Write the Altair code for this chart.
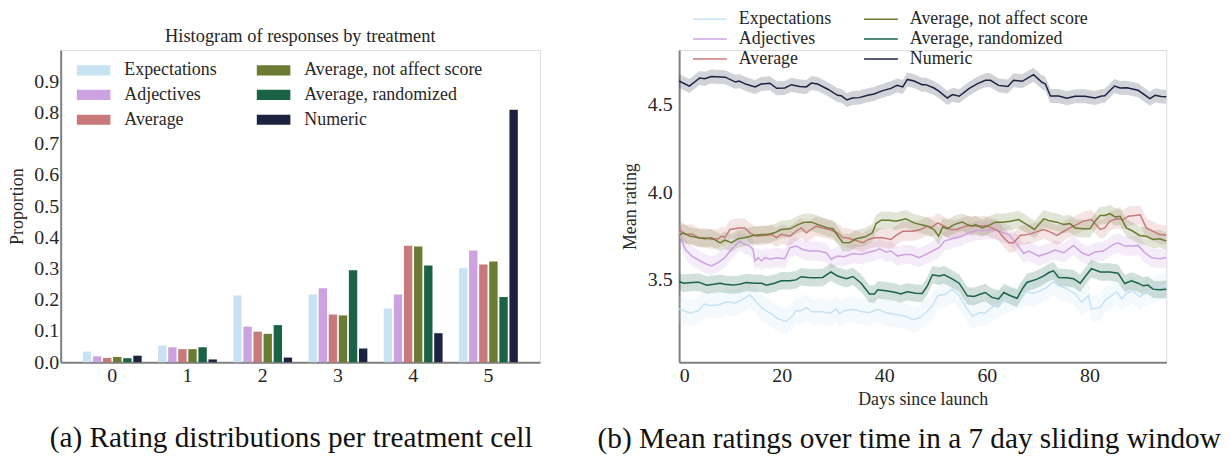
import altair as alt
import pandas as pd

FONT = "Liberation Serif"

SERIES = ["Expectations", "Adjectives", "Average",
          "Average, not affect score", "Average, randomized", "Numeric"]
COLORS = ["#c6e2f3", "#cda2e0", "#c87a7a", "#6b7b31", "#1b6346", "#1c2341"]

# ---------------- panel (a): histogram ----------------
RATINGS = [0, 1, 2, 3, 4, 5]
HIST = {
    "Expectations":              [0.034, 0.053, 0.214, 0.217, 0.172, 0.301],
    "Adjectives":                [0.019, 0.048, 0.114, 0.237, 0.217, 0.358],
    "Average":                   [0.014, 0.042, 0.098, 0.153, 0.373, 0.313],
    "Average, not affect score": [0.017, 0.042, 0.091, 0.150, 0.371, 0.323],
    "Average, randomized":       [0.013, 0.048, 0.119, 0.295, 0.310, 0.209],
    "Numeric":                   [0.021, 0.009, 0.015, 0.044, 0.093, 0.809],
}
HIST_TITLE = "Histogram of responses by treatment"
Y_TICKS_A = [0.0, 0.1, 0.2, 0.3, 0.4, 0.5, 0.6, 0.7, 0.8, 0.9]
CAP_A = "(a) Rating distributions per treatment cell"

# ---------------- panel (b): time series (day, mean rating) ----------------
TS = {
    "Expectations": [
        (0, 3.331), (2.1, 3.309), (3.8, 3.322), (4.9, 3.360), (6, 3.351), (7.6, 3.354),
        (9.3, 3.373), (10.9, 3.366), (12.5, 3.388), (13.8, 3.413), (15.1, 3.370),
        (16.4, 3.331), (18, 3.303), (19.3, 3.275), (20.8, 3.260), (22.2, 3.294),
        (22.7, 3.322), (23.8, 3.322), (24.8, 3.341), (25.8, 3.316), (27.7, 3.316),
        (29.6, 3.309), (30.6, 3.331), (31.3, 3.303), (32.2, 3.322), (33.9, 3.330),
        (35.1, 3.320), (37.1, 3.310), (38.7, 3.330), (40.3, 3.310), (42.3, 3.300),
        (44.2, 3.290), (45.5, 3.270), (46.8, 3.280), (48.1, 3.310), (49.4, 3.350),
        (50.4, 3.407), (52, 3.416), (53.3, 3.445), (54.6, 3.407), (56.2, 3.330),
        (57.2, 3.290), (58.4, 3.310), (59.7, 3.310), (61, 3.340), (62.3, 3.360),
        (63.5, 3.380), (66.2, 3.407), (67.8, 3.430), (69.1, 3.420), (70.4, 3.436),
        (71.7, 3.455), (73, 3.487), (74, 3.464), (75, 3.455), (76.2, 3.436),
        (77.2, 3.418), (78.5, 3.370), (79.8, 3.407), (80.4, 3.330), (82.1, 3.340),
        (83, 3.380), (84, 3.400), (85.3, 3.430), (86.3, 3.390), (87.2, 3.420),
        (88.5, 3.436), (89.8, 3.400), (91.1, 3.430), (92.4, 3.436), (93.7, 3.455),
        (95, 3.470)],
    "Adjectives": [
        (0, 3.767), (1.2, 3.672), (2.5, 3.634), (4.1, 3.606), (5.4, 3.587), (6.3, 3.578),
        (7.6, 3.597), (8.9, 3.625), (10.2, 3.672), (11.8, 3.720), (12.8, 3.701),
        (13.8, 3.691), (14.4, 3.672), (14.8, 3.606), (15.4, 3.625), (16.1, 3.606),
        (16.7, 3.625), (17.7, 3.616), (19, 3.625), (20.6, 3.619), (21.6, 3.682),
        (22.8, 3.691), (24.1, 3.672), (25.4, 3.663), (27.1, 3.663), (28.7, 3.653),
        (29.6, 3.616), (30.9, 3.634), (32.2, 3.630), (33.9, 3.649), (35.5, 3.643),
        (37.1, 3.657), (38.1, 3.663), (39.1, 3.676), (40.3, 3.657), (41.3, 3.663),
        (42.6, 3.634), (43.9, 3.643), (45.2, 3.643), (46.8, 3.625), (48.1, 3.643),
        (49.4, 3.663), (50.7, 3.682), (51.7, 3.720), (52.7, 3.729), (54, 3.739),
        (55.2, 3.748), (56.5, 3.767), (57.8, 3.780), (59.1, 3.780), (60.1, 3.785),
        (61.7, 3.785), (63, 3.770), (64.3, 3.757), (65.9, 3.701), (67.2, 3.649),
        (68.2, 3.663), (70.1, 3.634), (72.1, 3.653), (73.3, 3.669), (75, 3.653),
        (75.9, 3.672), (76.9, 3.695), (78.5, 3.653), (79.8, 3.638), (81.1, 3.657),
        (82.7, 3.663), (84.7, 3.701), (85.6, 3.710), (86.9, 3.691), (88.5, 3.691),
        (89.5, 3.695), (90.8, 3.653), (92.1, 3.625), (93.7, 3.619), (95, 3.625)],
    "Average": [
        (0, 3.786), (1.2, 3.758), (2.5, 3.760), (3.8, 3.739), (5, 3.739), (6.3, 3.729),
        (7.6, 3.733), (8.3, 3.748), (8.9, 3.740), (9.9, 3.786), (11.8, 3.795),
        (12.8, 3.795), (13.8, 3.767), (15.1, 3.748), (16.7, 3.752), (18, 3.758),
        (19, 3.739), (19.9, 3.758), (21.6, 3.748), (22.8, 3.776), (23.8, 3.795),
        (24.8, 3.767), (26.7, 3.805), (28, 3.795), (29.3, 3.786), (30.9, 3.767),
        (31.9, 3.740), (32.6, 3.739), (33.9, 3.729), (35.8, 3.710), (36.9, 3.729),
        (38.1, 3.739), (39.7, 3.739), (41.3, 3.729), (42.3, 3.752), (43.6, 3.776),
        (45.5, 3.776), (47.1, 3.786), (48.4, 3.805), (49.4, 3.801), (50.4, 3.824),
        (51.7, 3.805), (53, 3.786), (54.2, 3.786), (55.8, 3.805), (57.1, 3.809),
        (58.4, 3.805), (59.7, 3.809), (61, 3.795), (62.3, 3.776), (63.3, 3.739),
        (64.3, 3.710), (65.2, 3.710), (66.5, 3.752), (68.2, 3.758), (69.5, 3.771),
        (71.1, 3.786), (72.4, 3.771), (73.7, 3.752), (75, 3.776), (76.2, 3.795),
        (77.5, 3.814), (78.8, 3.834), (80.4, 3.843), (82.1, 3.786), (83, 3.795),
        (84, 3.834), (85.3, 3.847), (86.6, 3.843), (87.6, 3.862), (88.9, 3.866),
        (89.9, 3.870), (91.1, 3.795), (92.4, 3.776), (93.7, 3.758), (95, 3.755)],
    "Average, not affect score": [
        (0, 3.752), (0.8, 3.767), (2.1, 3.748), (3.8, 3.739), (5, 3.733), (6.3, 3.739),
        (8, 3.710), (8.9, 3.725), (10.2, 3.710), (11.5, 3.733), (12.8, 3.739),
        (14.4, 3.752), (16.1, 3.758), (17.3, 3.758), (18.6, 3.767), (19.9, 3.786),
        (21.6, 3.790), (23.2, 3.814), (24.5, 3.828), (25.8, 3.828), (27.1, 3.814),
        (29, 3.795), (30, 3.790), (30.9, 3.752), (31.9, 3.712), (33.2, 3.710),
        (34.5, 3.733), (36.3, 3.744), (37.7, 3.767), (38.4, 3.820), (39.4, 3.839),
        (41, 3.839), (42.3, 3.833), (44.2, 3.847), (45.8, 3.824), (47.1, 3.814),
        (48.4, 3.805), (49.7, 3.786), (50.6, 3.748), (51.4, 3.801), (52.3, 3.790),
        (53.6, 3.814), (55.2, 3.828), (56.2, 3.814), (57.2, 3.805), (57.8, 3.814),
        (59.1, 3.795), (60.7, 3.814), (61.7, 3.828), (63, 3.828), (64.6, 3.833),
        (66.2, 3.843), (67.8, 3.814), (69.3, 3.786), (71.1, 3.847), (72.4, 3.834),
        (73.7, 3.828), (75, 3.814), (76.2, 3.820), (77.2, 3.795), (78.8, 3.790),
        (80.1, 3.790), (81.1, 3.834), (82.1, 3.866), (83, 3.866), (84, 3.877),
        (85, 3.858), (86, 3.862), (87.2, 3.795), (88.5, 3.776), (89.8, 3.752),
        (91.1, 3.748), (92.4, 3.729), (93.7, 3.733), (95, 3.720)],
    "Average, randomized": [
        (0, 3.490), (0.8, 3.479), (2.5, 3.483), (3.8, 3.485), (5.4, 3.468), (6.7, 3.473),
        (8, 3.479), (8.9, 3.473), (10.5, 3.468), (11.8, 3.473), (13.1, 3.483),
        (14.8, 3.479), (16.1, 3.479), (17, 3.468), (18.6, 3.479), (19.9, 3.493),
        (21.6, 3.493), (22.8, 3.498), (23.8, 3.516), (25.1, 3.512), (26.4, 3.510),
        (28, 3.512), (29.6, 3.543), (30.9, 3.520), (32.6, 3.505), (33.9, 3.517),
        (35.5, 3.479), (37.1, 3.417), (38.1, 3.417), (38.7, 3.441), (40.3, 3.436),
        (42.3, 3.426), (43.2, 3.417), (44.5, 3.430), (46.2, 3.422), (47.4, 3.420),
        (48.4, 3.464), (49.4, 3.527), (50.7, 3.520), (51.7, 3.527), (53.3, 3.502),
        (54.6, 3.479), (56.2, 3.407), (57.5, 3.403), (58.8, 3.417), (59.7, 3.426),
        (61, 3.398), (62.3, 3.389), (63.3, 3.426), (64.6, 3.407), (65.9, 3.393),
        (66.9, 3.445), (67.8, 3.483), (69.8, 3.502), (71.1, 3.521), (72.1, 3.540),
        (73, 3.550), (74, 3.512), (75.6, 3.510), (76.9, 3.505), (78.2, 3.479),
        (79.8, 3.540), (80.4, 3.562), (82.1, 3.543), (84, 3.543), (85.6, 3.536),
        (86.9, 3.477), (88.2, 3.492), (89.5, 3.479), (90.5, 3.464), (91.4, 3.468),
        (92.4, 3.445), (93.7, 3.441), (95, 3.444)],
    "Numeric": [
        (0, 4.635), (2, 4.606), (4, 4.652), (5, 4.648), (6.3, 4.661), (9, 4.657),
        (11, 4.629), (11.7, 4.635), (13.1, 4.616), (14.8, 4.601), (16, 4.618),
        (17.7, 4.622), (19, 4.593), (20.6, 4.595), (21.9, 4.614), (23.5, 4.604),
        (24.8, 4.601), (25.8, 4.623), (27, 4.618), (29, 4.588), (30.9, 4.553),
        (31.6, 4.551), (32.7, 4.527), (33.8, 4.538), (35.1, 4.540), (36.8, 4.553),
        (38, 4.561), (39.7, 4.580), (41.3, 4.593), (42.5, 4.610), (43.6, 4.601),
        (44.5, 4.644), (45.8, 4.635), (47.4, 4.614), (48.1, 4.614), (49.7, 4.595),
        (50.7, 4.576), (52.3, 4.538), (53.3, 4.557), (54.6, 4.548), (56.5, 4.591),
        (58.1, 4.619), (59.7, 4.639), (60.7, 4.639), (62.3, 4.610), (64.1, 4.604),
        (65.2, 4.639), (66.9, 4.633), (69.1, 4.671), (70.7, 4.629), (71.4, 4.619),
        (72.4, 4.549), (74, 4.549), (75.6, 4.536), (77.2, 4.548), (79.1, 4.548),
        (81.1, 4.538), (82.4, 4.549), (83, 4.550), (84.9, 4.606), (86, 4.595),
        (87.3, 4.597), (89.5, 4.582), (91.8, 4.534), (92.8, 4.553), (94, 4.546),
        (95, 4.545)],
}
# half width of the shaded confidence band per series
BAND_HALF = {"Expectations": 0.075, "Adjectives": 0.055, "Average": 0.055,
             "Average, not affect score": 0.05, "Average, randomized": 0.05,
             "Numeric": 0.04}
X_TICKS_B = [0, 20, 40, 60, 80]
Y_TICKS_B = [3.5, 4.0, 4.5]
CAP_B = "(b) Mean ratings over time in a 7 day sliding window"

# ---------------- build tables ----------------
hist_rows = []
for s in SERIES:
    for r, p in zip(RATINGS, HIST[s]):
        hist_rows.append({"series": s, "rating": r, "proportion": p})
hist_df = pd.DataFrame(hist_rows)

ts_rows = []
for s in SERIES:
    for d, v in TS[s]:
        ts_rows.append({"series": s, "day": d, "rating": v,
                        "lo": v - BAND_HALF[s], "hi": v + BAND_HALF[s]})
ts_df = pd.DataFrame(ts_rows)

AXIS_GRAY = "#808080"
TXT = "#262626"
W_A, W_B, H = 482, 490, 314
CAP_SIZE = 29.4

color_scale = alt.Scale(domain=SERIES, range=COLORS)

color_a = alt.Color(
    "series:N", scale=color_scale,
    legend=alt.Legend(
        title=None, orient="none", legendX=16, legendY=8, columns=2,
        symbolType="M-1,-0.3H1V0.3H-1Z", symbolSize=1156, symbolStrokeWidth=0,
        symbolOpacity=1, labelFont=FONT, labelFontSize=18, labelColor=TXT,
        labelLimit=400, labelOffset=14, clipHeight=24.3, rowPadding=0,
        columnPadding=40, padding=0),
)

bars = alt.Chart(hist_df).mark_bar(opacity=1).encode(
    x=alt.X("rating:O",
            scale=alt.Scale(paddingInner=0.218, paddingOuter=0.294),
            axis=alt.Axis(title=None, labelAngle=0, labelFont=FONT,
                          labelFontSize=20, labelColor=TXT, labelPadding=3,
                          ticks=False, domainColor=AXIS_GRAY, domainWidth=2)),
    xOffset=alt.XOffset("series:N", sort=SERIES,
                        scale=alt.Scale(paddingInner=0.17)),
    y=alt.Y("proportion:Q",
            scale=alt.Scale(domain=[0, 1.0], nice=False),
            axis=alt.Axis(title="Proportion", values=Y_TICKS_A, format=".1f",
                          labelFont=FONT, labelFontSize=20, labelColor=TXT,
                          labelPadding=2, ticks=False, grid=False,
                          domainColor=AXIS_GRAY, domainWidth=2,
                          titleFont=FONT, titleFontSize=18, titleFontWeight="normal",
                          titleColor=TXT, titlePadding=7)),
    color=color_a,
)

hist_title = alt.Chart(pd.DataFrame({"t": [HIST_TITLE]})).mark_text(
    font=FONT, fontSize=18.5, color=TXT, baseline="middle", align="center"
).encode(text="t:N", x=alt.value(W_A / 2), y=alt.value(-14))

left = alt.layer(bars, hist_title).properties(
    width=W_A, height=H,
    title=alt.TitleParams(CAP_A, orient="bottom", anchor="start", frame="group",
                          dx=-11, offset=62, baseline="alphabetic",
                          font=FONT, fontSize=CAP_SIZE, fontWeight="normal",
                          color="#111"),
)

color_b_line = alt.Color(
    "series:N", scale=color_scale,
    legend=alt.Legend(
        title=None, orient="none", legendX=13, legendY=-41, columns=2,
        symbolType="stroke", symbolSize=1156, symbolStrokeWidth=1.5,
        labelFont=FONT, labelFontSize=18, labelColor=TXT, labelLimit=400,
        labelOffset=11, clipHeight=20, rowPadding=0, columnPadding=32,
        padding=0),
)

x_b = alt.X("day:Q", scale=alt.Scale(domain=[0, 95], nice=False),
            axis=alt.Axis(title="Days since launch", values=X_TICKS_B, format="d",
                          labelFont=FONT, labelFontSize=20, labelColor=TXT,
                          labelPadding=3, ticks=False, grid=False,
                          domainColor=AXIS_GRAY, domainWidth=2,
                          titleFont=FONT, titleFontSize=18, titleFontWeight="normal",
                          titleColor=TXT, titlePadding=6))
y_scale_b = alt.Scale(domain=[3.027, 4.812], nice=False, zero=False)

bands = alt.Chart(ts_df).mark_area(opacity=0.2, interpolate="linear").encode(
    x=x_b,
    y=alt.Y("lo:Q", scale=y_scale_b),
    y2="hi:Q",
    color=alt.Color("series:N", scale=alt.Scale(domain=SERIES, range=COLORS),
                    legend=None),
    detail="series:N",
)

lines = alt.Chart(ts_df).mark_line(strokeWidth=1.5).encode(
    x=x_b,
    y=alt.Y("rating:Q", scale=y_scale_b,
            axis=alt.Axis(title="Mean rating", values=Y_TICKS_B, format=".1f",
                          labelFont=FONT, labelFontSize=20, labelColor=TXT,
                          labelPadding=7, ticks=False, grid=False,
                          domainColor=AXIS_GRAY, domainWidth=2,
                          titleFont=FONT, titleFontSize=18, titleFontWeight="normal",
                          titleColor=TXT, titlePadding=8)),
    color=color_b_line,
    detail="series:N",
)

right = alt.layer(bands, lines).resolve_scale(color="independent").properties(
    width=W_B, height=H,
    title=alt.TitleParams(CAP_B, orient="bottom", anchor="start", frame="group",
                          dx=-82, offset=39, baseline="alphabetic",
                          font=FONT, fontSize=CAP_SIZE, fontWeight="normal",
                          color="#111"),
)

chart = alt.hconcat(left, right, spacing=140, bounds="flush").resolve_scale(
    color="independent"
).resolve_legend(color="independent").properties(
    padding={"left": 0, "top": -1, "right": 0, "bottom": 0}
).configure_view(stroke=None).configure(background="white")

chart.save("out.html", embed_options={"renderer": "svg", "actions": False})
